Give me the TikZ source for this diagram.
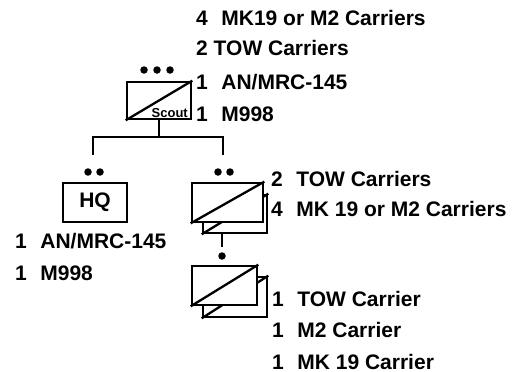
\documentclass[tikz,border=0pt]{standalone}
\usepackage{fontspec}
\setmainfont{Liberation Sans}
\usetikzlibrary{positioning}
\newcommand{\veh}[2]{\makebox[1.2em][l]{#1}#2}

\begin{document}
\begin{tikzpicture}[x=1pt, y=-1pt,
  font=\fontsize{21}{24}\selectfont\bfseries,
  unit/.style={draw, line width=2.6pt, fill=white, inner sep=0pt},
  slash/.style={line width=2.3pt},
  link/.style={line width=2.6pt},
  eqp/.style={anchor=base west, inner sep=0pt},
  dot/.style={circle, fill, inner sep=0pt, minimum size=7.5pt},
]
\useasboundingbox (0,0) rectangle (515,372);

% scout section
\node[unit, minimum width=64pt, minimum height=37pt] (scout) at (159,100.5) {};
\draw[slash] (scout.south west) -- (scout.north east);
\node[anchor=base east, inner sep=0pt, font=\fontsize{13}{15}\selectfont\bfseries]
  (scouttxt) at (188,117) {Scout};
\foreach \x [count=\i] in {144,157,170}
  \node[dot] (scoutdot\i) at (\x,70) {};
\node[eqp] (scmk)  at (196,25)  {\veh{4}{MK19 or M2 Carriers}};
\node[eqp] (sctow) at (196,56)  {2 TOW Carriers};
\node[eqp] (scrad) at (196,89)  {\veh{1}{AN/MRC-145}};
\node[eqp] (schmv) at (196,121) {\veh{1}{M998}};

% HQ
\node[unit, minimum width=64pt, minimum height=39pt] (hq) at (95,202.5) {HQ};
\foreach \x [count=\i] in {88,100}
  \node[dot] (hqdot\i) at (\x,172) {};
\node[eqp] (hqrad) at (15,248) {\veh{1}{AN/MRC-145}};
\node[eqp] (hqhmv) at (15,280) {\veh{1}{M998}};

% platoon
\node[unit, minimum width=64pt, minimum height=38pt] (pltback) at (235,214) {};
\draw[slash] (pltback.south west) -- (pltback.north east);
\node[unit, minimum width=71pt, minimum height=39pt] (plt) at (227.5,202.5) {};
\draw[slash] (plt.south west) -- (plt.north east);
\foreach \x [count=\i] in {218,230}
  \node[dot] (pltdot\i) at (\x,172) {};
\node[eqp] (plttow) at (271,186) {\veh{2}{TOW Carriers}};
\node[eqp] (pltmk)  at (271,216) {\veh{4}{MK 19 or M2 Carriers}};

% section
\node[unit, minimum width=64pt, minimum height=40pt] (sctback) at (235,297) {};
\draw[slash] (sctback.south west) -- (sctback.north east);
\node[unit, minimum width=65pt, minimum height=39pt] (sct) at (224.5,285.5) {};
\draw[slash] (sct.south west) -- (sct.north east);
\node[dot] (sctdot) at (222,256) {};
\node[eqp] (scttow) at (272,306) {\veh{1}{TOW Carrier}};
\node[eqp] (sctm2)  at (272,337) {\veh{1}{M2 Carrier}};
\node[eqp] (sctmk)  at (272,369) {\veh{1}{MK 19 Carrier}};

% connectors
\coordinate (bar) at (159,137);
\coordinate (hqend) at (93,155);
\coordinate (pltend) at (223,155);
\coordinate (sctend) at (222,247);
\draw[link] (scout.south) -- (bar);
\draw[link] (hqend) |- (bar) -| (pltend);
\draw[link] (sctend |- pltback.south) -- (sctend);
\end{tikzpicture}
\end{document}
